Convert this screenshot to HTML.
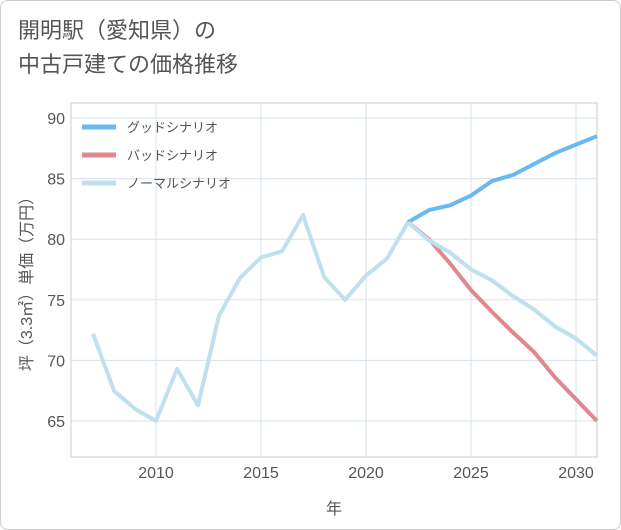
<!DOCTYPE html>
<html><head><meta charset="utf-8"><style>
body{margin:0;background:#fff;}
#card{position:absolute;left:0;top:0;width:619px;height:528px;border:1px solid #ccc;border-radius:8px;background:#fff;}
.t{font-family:"Liberation Sans","Noto Sans CJK JP",sans-serif;}
</style></head><body>
<div id="card"></div>
<div class="t" style="position:absolute;left:18px;top:14px;font-size:22px;color:#555;line-height:34px;">開明駅（愛知県）の<br>中古戸建ての価格推移</div>
<svg id="c" width="621" height="530" style="position:absolute;left:0;top:0"></svg>
<script>
const years=[2007,2008,2009,2010,2011,2012,2013,2014,2015,2016,2017,2018,2019,2020,2021,2022,2023,2024,2025,2026,2027,2028,2029,2030,2031];
const normal=[72.2,67.5,66,65,69.3,66.3,73.7,76.8,78.5,79,82,76.9,75,77,78.4,81.4,79.9,78.9,77.5,76.6,75.3,74.2,72.8,71.8,70.4];
const goodYears=[2022,2023,2024,2025,2026,2027,2028,2029,2030,2031];
const good=[81.4,82.4,82.8,83.6,84.8,85.3,86.2,87.1,87.8,88.5];
const bad=[81.4,80.0,78.0,75.8,74.0,72.3,70.7,68.6,66.8,65.0];
const xTicks=[2010,2015,2020,2025,2030];
const yTicks=[65,70,75,80,85,90];
const L=71,R=597,T=103,B=457;
const x=v=>156+(v-2010)*21;
const y=v=>118+(90-v)*12.12;
const svg=document.getElementById('c');
const NS='http://www.w3.org/2000/svg';
function mk(tag,a){const e=document.createElementNS(NS,tag);for(const k in a)e.setAttribute(k,a[k]);svg.appendChild(e);return e;}
let e=mk('rect',{x:L,y:T,width:R-L,height:B-T,fill:'none',stroke:'#ccc'});


yTicks.forEach(v=>{
 let g=mk('line',{x1:L,x2:R,y1:y(v),y2:y(v),stroke:'#d5e3ea'});
 
 
 let t=mk('text',{x:L-6,y:y(v)+6,'text-anchor':'end','font-size':16,fill:'#555',class:'t'});t.textContent=v;
 
 
});
xTicks.forEach(v=>{
 let g=mk('line',{x1:x(v),x2:x(v),y1:T,y2:B,stroke:'#d5e3ea'});
 
 
 let t=mk('text',{x:x(v),y:B+21,'text-anchor':'middle','font-size':16,fill:'#555',class:'t'});t.textContent=v;
 
 
});
let xt=mk('text',{x:334,y:514,'text-anchor':'middle','font-size':16,fill:'#555',class:'t'});xt.textContent='年';


let yt=mk('text',{x:0,y:0,'text-anchor':'middle','font-size':16,fill:'#555',class:'t',transform:'translate(32,280) rotate(-90)'});yt.textContent='坪（3.3㎡）単価（万円）';


function line(xs,vs,col,name){
 const pts=xs.map((yr,i)=>x(yr)+','+y(vs[i])).join(' ');
 let p=mk('polyline',{points:pts,fill:'none',stroke:col,'stroke-width':4,'stroke-linejoin':'round'});
 
 
}
line(years,normal,'#bfe0ec','normal-scenario-line');
line(goodYears,bad,'#e0878f','bad-scenario-line');
line(goodYears,good,'#6ab8f0','good-scenario-line');
line(years.slice(15),normal.slice(15),'#bfe0ec','normal-scenario-forecast');
const leg=[['グッドシナリオ','#6ab8f0'],['バッドシナリオ','#e0878f'],['ノーマルシナリオ','#bfe0ec']];
leg.forEach((l,i)=>{
 const yy=127+i*28;
 let s=mk('line',{x1:82,x2:116,y1:yy,y2:yy,stroke:l[1],'stroke-width':5});
 
 
 let t=mk('text',{x:127,y:yy+5,'font-size':13,fill:'#555',class:'t'});t.textContent=l[0];
 
 
});
</script>
</body></html>
